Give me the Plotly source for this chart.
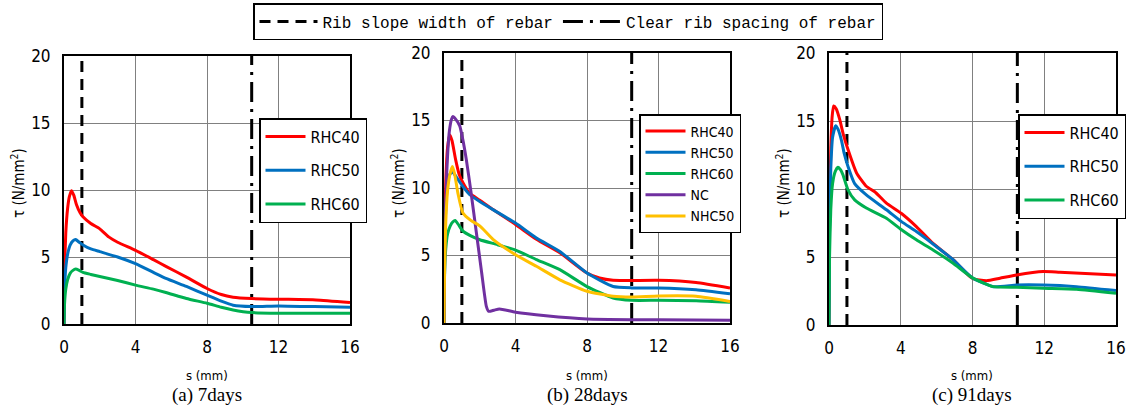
import plotly.graph_objects as go

# ---------------- data ----------------
# reference lines (mm)
rib_slope_width = 1.0
clear_rib_spacing = 10.5

# (a) 7 days
x_rhc40_7 = [0, 0.03, 0.1, 0.2, 0.3, 0.42, 0.55, 0.7, 0.9, 1.06, 1.5, 2.0, 2.5, 3.0, 4.0, 5.0, 5.7, 6.85, 8.0, 8.8, 9.46, 10.5, 12, 14.1, 16]
y_rhc40_7 = [0, 4.0, 6.8, 8.6, 9.5, 9.95, 9.6, 8.9, 8.3, 8.0, 7.5, 7.1, 6.5, 6.1, 5.5, 4.8, 4.3, 3.5, 2.65, 2.2, 2.0, 1.9, 1.85, 1.8, 1.6]
x_rhc50_7 = [0, 0.03, 0.1, 0.2, 0.35, 0.5, 0.65, 0.85, 1.06, 1.5, 2.0, 3.0, 4.0, 5.0, 5.7, 6.85, 8.0, 8.8, 9.46, 10.5, 12, 14, 16]
y_rhc50_7 = [0, 2.5, 4.2, 5.2, 5.9, 6.2, 6.3, 6.1, 5.9, 5.6, 5.4, 5.0, 4.5, 3.85, 3.4, 2.8, 2.15, 1.7, 1.4, 1.3, 1.35, 1.3, 1.25]
x_rhc60_7 = [0, 0.03, 0.1, 0.2, 0.35, 0.5, 0.65, 0.85, 1.06, 1.5, 2.0, 3.0, 4.0, 5.0, 5.7, 6.85, 8.0, 8.8, 9.46, 10.5, 12, 14, 16]
y_rhc60_7 = [0, 1.5, 2.6, 3.3, 3.8, 4.0, 4.1, 4.0, 3.85, 3.7, 3.55, 3.25, 2.9, 2.6, 2.35, 1.9, 1.55, 1.25, 1.05, 0.85, 0.8, 0.8, 0.8]

# (b) 28 days
x_rhc40_28 = [0, 0.03, 0.1, 0.2, 0.32, 0.45, 0.65, 0.85, 1.06, 1.44, 2.0, 2.74, 4.0, 5.17, 6.48, 8.0, 8.7, 9.46, 10.5, 12, 14.1, 16]
y_rhc40_28 = [0, 6, 10.5, 13.0, 13.95, 13.5, 12.1, 11.0, 10.4, 9.6, 9.1, 8.4, 7.3, 6.2, 5.2, 3.7, 3.33, 3.16, 3.15, 3.16, 3.0, 2.6]
x_rhc50_28 = [0, 0.03, 0.1, 0.2, 0.32, 0.47, 0.65, 0.85, 1.06, 1.44, 2.0, 2.74, 4.0, 5.17, 6.48, 8.0, 9.46, 10.5, 12, 14.1, 16]
y_rhc50_28 = [0, 5, 8.5, 10.3, 11.0, 11.2, 10.9, 10.5, 10.1, 9.5, 9.0, 8.4, 7.4, 6.3, 5.3, 3.7, 2.7, 2.6, 2.6, 2.47, 2.17]
x_rhc60_28 = [0, 0.03, 0.1, 0.2, 0.35, 0.5, 0.62, 0.8, 1.06, 1.5, 2.0, 3.0, 4.0, 5.17, 6.48, 8.0, 9.46, 10.5, 12, 14.1, 16]
y_rhc60_28 = [0, 3.5, 5.5, 6.6, 7.2, 7.5, 7.6, 7.3, 6.8, 6.45, 6.17, 5.8, 5.4, 4.7, 3.95, 2.7, 1.85, 1.68, 1.68, 1.65, 1.53]
x_nc_28 = [0, 0.05, 0.15, 0.3, 0.42, 0.5, 0.65, 0.88, 1.05, 1.25, 1.5, 1.81, 2.1, 2.37, 2.5, 2.8, 3.1, 4.0, 5.7, 8.0, 10.5, 12, 16]
y_nc_28 = [0, 6, 11, 14.2, 15.1, 15.3, 15.1, 14.6, 13.6, 12.1, 9.8, 6.7, 3.8, 1.23, 0.86, 0.95, 1.04, 0.8, 0.54, 0.3, 0.25, 0.25, 0.2]
x_nhc50_28 = [0, 0.03, 0.1, 0.2, 0.33, 0.47, 0.6, 0.78, 1.06, 1.5, 2.0, 2.74, 4.0, 5.17, 6.48, 8.0, 9.46, 10.5, 12, 14.1, 16]
y_nhc50_28 = [0, 4, 7.5, 9.8, 11.0, 11.6, 11.0, 9.6, 8.15, 7.6, 7.2, 6.2, 5.06, 4.2, 3.2, 2.35, 1.98, 1.93, 2.0, 1.98, 1.6]

# (c) 91 days
x_rhc40_91 = [0, 0.03, 0.1, 0.18, 0.26, 0.4, 0.6, 0.8, 1.06, 1.53, 2.08, 2.55, 3.2, 4.04, 4.87, 5.8, 6.92, 7.98, 8.78, 9.53, 10.46, 11.94, 12.87, 16]
y_rhc40_91 = [0, 8, 13, 15.4, 16.1, 15.9, 15.1, 14.0, 12.9, 11.2, 10.2, 9.8, 8.96, 8.2, 7.24, 6.0, 4.8, 3.44, 3.26, 3.44, 3.68, 3.93, 3.88, 3.68]
x_rhc50_91 = [0, 0.03, 0.1, 0.2, 0.37, 0.5, 0.69, 0.85, 1.06, 1.43, 2.08, 3.2, 4.04, 4.87, 5.8, 6.92, 7.98, 9.15, 10.46, 11.94, 13.8, 16]
y_rhc50_91 = [0, 7, 11.5, 13.8, 14.65, 14.4, 13.6, 12.6, 11.66, 10.4, 9.57, 8.47, 7.6, 6.87, 5.96, 4.8, 3.48, 2.82, 2.94, 2.94, 2.82, 2.53]
x_rhc60_91 = [0, 0.03, 0.1, 0.2, 0.35, 0.5, 0.65, 0.78, 1.06, 1.43, 2.08, 3.2, 4.04, 4.87, 5.8, 6.92, 7.98, 9.15, 10.46, 11.94, 13.8, 16]
y_rhc60_91 = [0, 5, 8.5, 10.4, 11.3, 11.6, 11.4, 11.04, 9.94, 9.2, 8.6, 7.85, 7.0, 6.26, 5.52, 4.54, 3.48, 2.82, 2.77, 2.7, 2.63, 2.33]

x_ticks = [0, 4, 8, 12, 16]
y_ticks = [0, 5, 10, 15, 20]
captions = ["(a) 7days", "(b) 28days", "(c) 91days"]

# ---------------- styling ----------------
RED, BLUE, GREEN, PURPLE, YELLOW = "#FF0000", "#0070C0", "#00B050", "#7030A0", "#FFC000"
NARROW = "DejaVu Sans Condensed, Liberation Sans Narrow, Liberation Sans, sans-serif"
MONO = "Liberation Mono, DejaVu Sans Mono, monospace"
SERIF = "Liberation Serif, Times New Roman, serif"

W, H = 1126, 409


def fx(px):
    return px / W


def fy(py):
    return 1 - py / H


panels = [  # (x0, x1, ytop, ybottom) in pixels
    (64, 350, 56, 324),
    (444, 730, 53, 323),
    (829, 1116, 53, 325),
]

fig = go.Figure()

series = [
    [("RHC40", x_rhc40_7, y_rhc40_7, RED), ("RHC50", x_rhc50_7, y_rhc50_7, BLUE), ("RHC60", x_rhc60_7, y_rhc60_7, GREEN)],
    [("RHC40", x_rhc40_28, y_rhc40_28, RED), ("RHC50", x_rhc50_28, y_rhc50_28, BLUE), ("RHC60", x_rhc60_28, y_rhc60_28, GREEN),
     ("NC", x_nc_28, y_nc_28, PURPLE), ("NHC50", x_nhc50_28, y_nhc50_28, YELLOW)],
    [("RHC40", x_rhc40_91, y_rhc40_91, RED), ("RHC50", x_rhc50_91, y_rhc50_91, BLUE), ("RHC60", x_rhc60_91, y_rhc60_91, GREEN)],
]
legend_names = ["legend", "legend2", "legend3"]

for i, group in enumerate(series):
    xa = "x" if i == 0 else f"x{i+1}"
    ya = "y" if i == 0 else f"y{i+1}"
    fig.add_trace(go.Scatter(x=[rib_slope_width, rib_slope_width], y=[y_ticks[0], y_ticks[-1]], mode="lines",
                             line=dict(color="black", width=3, dash="11px,7px"),
                             name="Rib slope width of rebar", legend="legend4", showlegend=(i == 0),
                             xaxis=xa, yaxis=ya, hoverinfo="skip"))
    fig.add_trace(go.Scatter(x=[clear_rib_spacing, clear_rib_spacing], y=[y_ticks[0], y_ticks[-1]], mode="lines",
                             line=dict(color="black", width=3, dash="20px,7px,3px,7px"),
                             name="Clear rib spacing of rebar", legend="legend4", showlegend=(i == 0),
                             xaxis=xa, yaxis=ya, hoverinfo="skip"))
    for name, xs, ys, col in group:
        fig.add_trace(go.Scatter(x=xs, y=ys, mode="lines", name=name,
                                 line=dict(color=col, width=3, shape="spline", smoothing=0.5),
                                 legend=legend_names[i], legendgroup=f"{i}{name}",
                                 xaxis=xa, yaxis=ya))

layout = dict(width=W, height=H, margin=dict(l=0, r=0, t=0, b=0, autoexpand=False),
              paper_bgcolor="white", plot_bgcolor="white", showlegend=True)

for i, (x0, x1, yt, yb) in enumerate(panels):
    sfx = "" if i == 0 else str(i + 1)
    common = dict(showgrid=True, gridcolor="#808080", gridwidth=1,
                  showline=True, linecolor="black", linewidth=2, mirror=True, zeroline=False,
                  ticks="", tickfont=dict(family=NARROW, size=17, color="black"))
    layout[f"xaxis{sfx}"] = dict(domain=[fx(x0), fx(x1)], anchor=f"y{sfx}", range=[x_ticks[0], x_ticks[-1]],
                                 tickvals=x_ticks, ticklabelstandoff=7, **common)
    layout[f"yaxis{sfx}"] = dict(domain=[fy(yb), fy(yt)], anchor=f"x{sfx}", range=[y_ticks[0], y_ticks[-1]],
                                 tickvals=y_ticks, ticklabelstandoff=8, **common)

legend_pos = [(259, 118, 10, "left", 16), (639, 114, 0, "left", 14), (1126, 114, 10, "right", 16)]
for name, (lx, ly, gap, anc, fs) in zip(legend_names, legend_pos):
    layout[name] = dict(x=fx(lx), y=fy(ly), xanchor=anc, yanchor="top",
                        bgcolor="white", bordercolor="black", borderwidth=1.5,
                        font=dict(family=NARROW, size=fs, color="black"),
                        tracegroupgap=gap, itemwidth=40)
layout["legend4"] = dict(x=fx(253), y=fy(3), xanchor="left", yanchor="top", orientation="h",
                         bgcolor="white", bordercolor="black", borderwidth=1.5,
                         font=dict(family=MONO, size=16, color="black"), itemwidth=58)

annotations = []
for i, (x0, x1, yt, yb) in enumerate(panels):
    cx = fx((x0 + x1) / 2)
    annotations.append(dict(x=cx, y=fy(375), xref="paper", yref="paper", text="s (mm)", showarrow=False,
                            font=dict(family=NARROW, size=13, color="black"), xanchor="center", yanchor="middle"))
    annotations.append(dict(x=cx, y=fy(395), xref="paper", yref="paper", text=captions[i], showarrow=False,
                            font=dict(family=SERIF, size=19, color="black"), xanchor="center", yanchor="middle"))
    annotations.append(dict(x=fx(x0 - 46), y=fy(183), xref="paper", yref="paper",
                            text="τ (N/mm<sup>2</sup>)", textangle=-90, showarrow=False,
                            font=dict(family=NARROW, size=15, color="black"), xanchor="center", yanchor="middle"))
layout["annotations"] = annotations

fig.update_layout(**layout)
fig.write_html("out.html", config={"displayModeBar": False},
               post_script="document.body.style.margin='0';document.body.style.overflow='hidden';")
